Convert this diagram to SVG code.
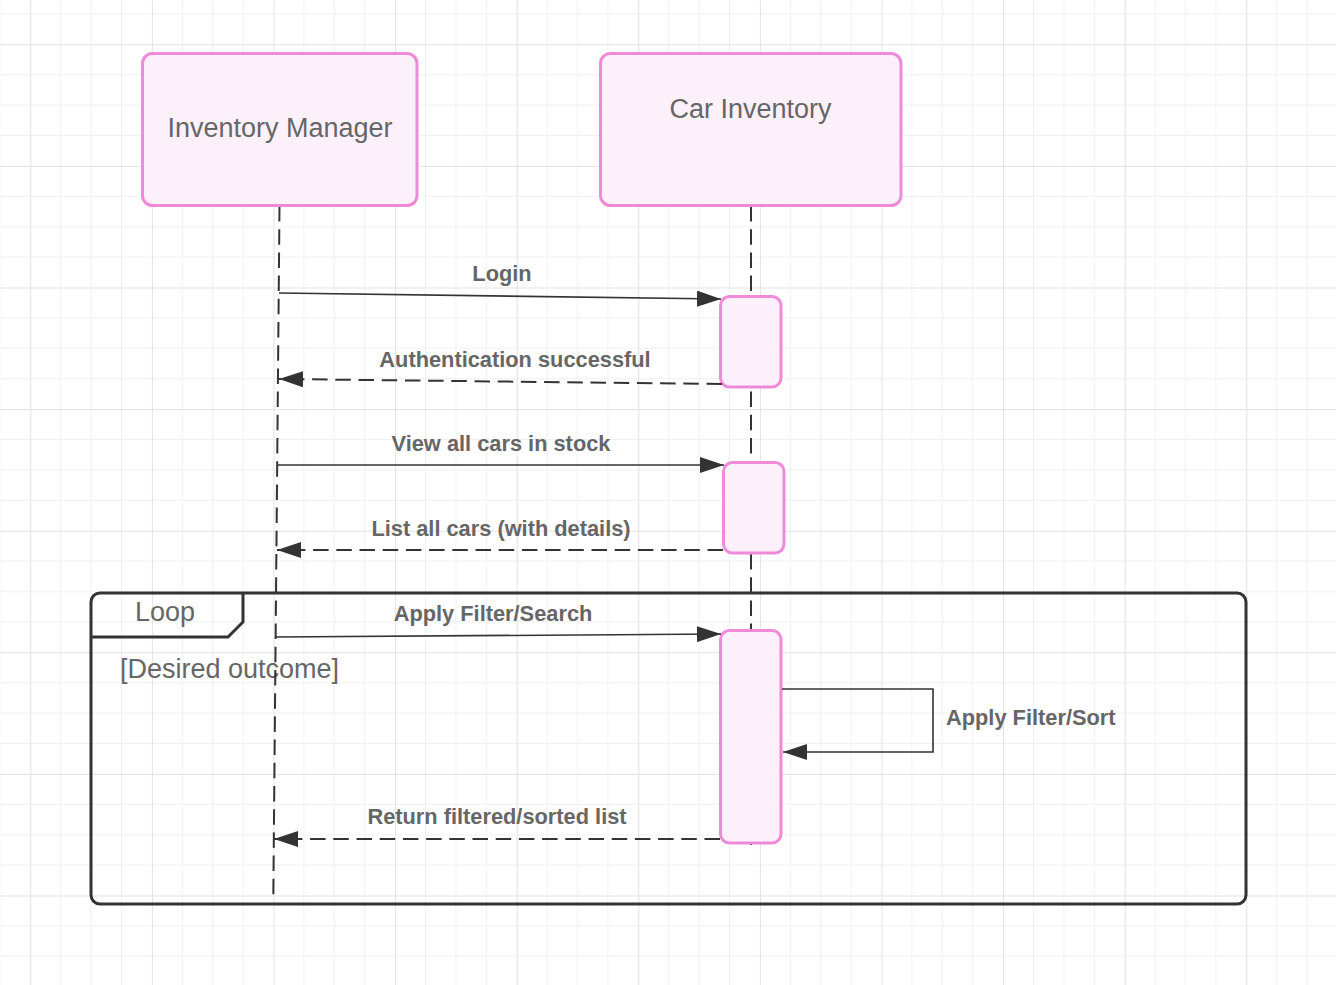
<svg xmlns="http://www.w3.org/2000/svg" width="1336" height="985" viewBox="0 0 1336 985">
<defs>
<pattern id="grid" patternUnits="userSpaceOnUse" x="30.3" y="44.3" width="121.6" height="121.6">
<path d="M30.4 0V121.6M60.8 0V121.6M91.2 0V121.6M0 30.4H121.6M0 60.8H121.6M0 91.2H121.6" stroke="#f0f0f0" stroke-width="1" fill="none"/>
<path d="M0.5 0V121.6M0 0.5H121.6" stroke="#e2e2e2" stroke-width="1" fill="none"/>
</pattern>
<marker id="arr" viewBox="0 0 24 16" refX="24" refY="8" markerWidth="24" markerHeight="16" markerUnits="userSpaceOnUse" orient="auto">
<path d="M0 0L24 8L0 16Z" fill="#333"/>
</marker>
</defs>
<style>
.actor{fill:#fcf0fa;stroke:#f08ad8;stroke-width:3}
.act{fill:#fcf0fa;stroke:#f08ad8;stroke-width:3}
.life{stroke:#333;stroke-width:2;stroke-dasharray:15.5 7.7;fill:none}
.msg{stroke:#333;stroke-width:1.6;fill:none}
.ret{stroke:#333;stroke-width:2;stroke-dasharray:15.5 7.7;fill:none}
.t{font-family:"Liberation Sans",Arial,sans-serif;fill:#666;font-size:27px}
.lbl{font-family:"Liberation Sans",Arial,sans-serif;fill:#666;font-size:21.8px;font-weight:bold}
.frame{fill:none;stroke:#333;stroke-width:3}
</style>
<rect width="1336" height="985" fill="#fff"/>
<rect width="1336" height="985" fill="url(#grid)"/>

<g id="loop-frame">
<rect class="frame" x="91" y="593" width="1155" height="311" rx="9"/>
<path class="frame" d="M91 637H228L243 622V593"/>
<text class="t" x="165" y="621" text-anchor="middle" font-size="26">Loop</text>
<text class="t" x="120" y="678" font-size="26.2">[Desired outcome]</text>
</g>

<g id="lifelines">
<line class="life" x1="279.5" y1="206" x2="273.3" y2="897"/>
<line class="life" x1="751" y1="206" x2="751" y2="845"/>
</g>

<g id="inventory-manager">
<rect class="actor" x="142.5" y="53.5" width="274.5" height="152" rx="10"/>
<text class="t" x="280" y="137" text-anchor="middle">Inventory Manager</text>
</g>

<g id="car-inventory">
<rect class="actor" x="600.5" y="53.5" width="300.5" height="152" rx="10"/>
<text class="t" x="750.5" y="118" text-anchor="middle">Car Inventory</text>
</g>

<g id="activation-1">
<rect class="act" x="720.5" y="296.5" width="60.5" height="90.5" rx="9"/>
</g>
<g id="activation-2">
<rect class="act" x="723.5" y="462.5" width="60.5" height="90.5" rx="9"/>
</g>
<g id="activation-3">
<rect class="act" x="720.5" y="630.5" width="60.5" height="212.5" rx="9"/>
</g>

<g id="connectors">
<line class="msg" x1="279" y1="293" x2="721" y2="299" marker-end="url(#arr)"/>
<line class="ret" x1="722" y1="384" x2="279" y2="379" marker-end="url(#arr)"/>
<line class="msg" x1="277" y1="465" x2="724" y2="465" marker-end="url(#arr)"/>
<line class="ret" x1="723" y1="550" x2="277" y2="550" marker-end="url(#arr)"/>
<line class="msg" x1="276" y1="637" x2="721" y2="634" marker-end="url(#arr)"/>
<path class="msg" d="M782 689H933V752H783" marker-end="url(#arr)"/>
<line class="ret" x1="720" y1="839" x2="274" y2="839" marker-end="url(#arr)"/>
<text class="lbl" x="502" y="281" text-anchor="middle">Login</text>
<text class="lbl" x="515" y="367" text-anchor="middle">Authentication successful</text>
<text class="lbl" x="501" y="451" text-anchor="middle">View all cars in stock</text>
<text class="lbl" x="501" y="536" text-anchor="middle">List all cars (with details)</text>
<text class="lbl" x="493" y="621" text-anchor="middle">Apply Filter/Search</text>
<text class="lbl" x="946" y="725">Apply Filter/Sort</text>
<text class="lbl" x="497" y="824" text-anchor="middle">Return filtered/sorted list</text>
</g>
</svg>
